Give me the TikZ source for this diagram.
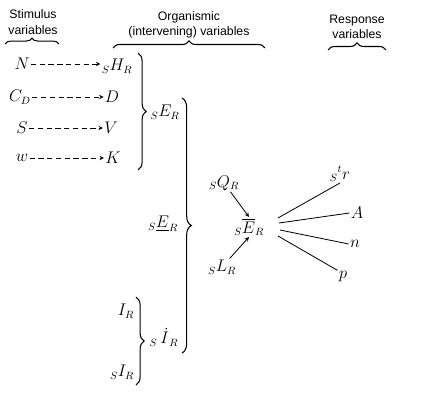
\documentclass[tikz,border=0pt]{standalone}
\usepackage{amsmath,amssymb}
\usepackage{fontspec}
\newfontfamily\headfont{Liberation Sans}
\usetikzlibrary{arrows,decorations.pathreplacing}

\begin{document}
\begin{tikzpicture}[x=0.03cm,y=-0.03cm,
        var/.style={font=\fontsize{13.5}{15}\selectfont,inner sep=1pt},
        head/.style={font=\headfont\fontsize{10.5}{13}\selectfont,align=center,inner sep=0pt},
        brc/.style={decorate,decoration={brace,amplitude=#1},line width=0.9pt},
        flow/.style={dashed,dash pattern=on 4.5pt off 3pt,-stealth,line width=0.7pt},
        link/.style={line width=0.7pt}]
                \useasboundingbox (0,0) rectangle (431,419);
                 % headings
                 \node[head] (stim) at (33,22) {Stimulus\\variables};
                 \node[head] (org) at (189,25) {Organismic\\(intervening) variables};
                 \node[head] (resp) at (357,27) {Response\\variables};
                 \draw[brc=5pt] (5,44) -- (59,44);
                 \draw[brc=6pt] (113,48) -- (265,48);
                 \draw[brc=6pt] (328,50) -- (386,50);
                 % stimulus variables
                 \node[var] (N) at (22,64) {$N$};
                 \node[var] (CD) at (20,97) {$C_D$};
                 \node[var] (S) at (22,128) {$S$};
                 \node[var] (w) at (22,158) {$w$};
                 \node[var] (HR) at (117,66) {${}_{S}H_{R}$};
                 \node[var] (D) at (112,97) {$D$};
                 \node[var] (V) at (111,128) {$V$};
                 \node[var] (K) at (113,158) {$K$};
                 \draw[flow] (N.east) -- (N.east -| HR.west);
                 \draw[flow] (CD.east) -- (CD.east -| D.west);
                 \draw[flow] (S.east) -- (S.east -| V.west);
                 \draw[flow] (w.east) -- (w.east -| K.west);
                 % organismic braces
                 \draw[brc=7pt] (138,53) -- (138,170);
                 \node[var] (sER) at (165,112) {${}_{S}E_{R}$};
                 \draw[brc=8pt] (182,98) -- (182,353);
                 \node[var] (sEu) at (163,224) {${}_{S}\underline{E}_{R}$};
                 \node[var] (IR) at (126,311) {$I_R$};
                 \node[var] (sIR) at (122,372) {${}_{S}I_{R}$};
                 \draw[brc=7pt] (136,297) -- (136,385);
                 \node[var] (sIdot) at (164,337) {${}_{S}\,\dot{I}_{\,R}$};
                 % effective potential
                 \node[var] (sQR) at (224,183) {${}_{S}Q_{R}$};
                 \node[var] (Ebar) at (249,227) {${}_{S}\overline{E}_{R}$};
                 \node[var] (sLR) at (222,267) {${}_{S}L_{R}$};
                 \draw[link,-stealth] (sQR) -- (Ebar.north);
                 \draw[link,-stealth] (sLR) -- (Ebar.south);
                 % response variables
                 \node[var] (str) at (340,174) {${}_{S}{}^{t}r$};
                 \node[var] (A) at (357,213) {$A$};
                 \node[var] (n) at (355,244) {$n$};
                 \node[var] (p) at (343,277) {$p$};
                 \coordinate (r1) at (278,218);
                 \coordinate (r2) at (279,223);
                 \coordinate (r3) at (280,230);
                 \coordinate (r4) at (278,236);
                 \draw[link] (r1) -- (str.south);
                 \draw[link] (r2) -- (A.west);
                 \draw[link] (r3) -- (n.west);
                 \draw[link] (r4) -- (p.north west);
            \end{tikzpicture}
\end{document}
